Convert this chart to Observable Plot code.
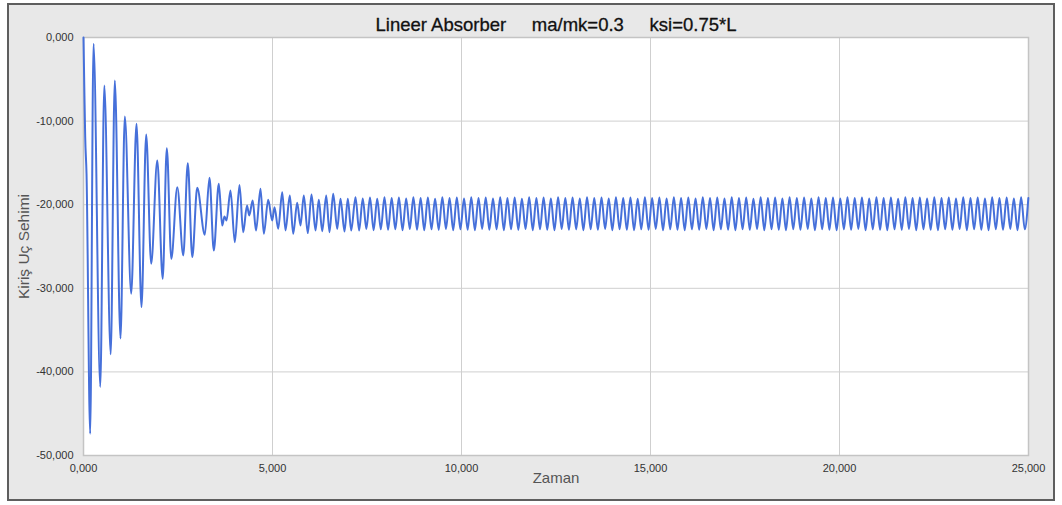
<!DOCTYPE html>
<html>
<head>
<meta charset="utf-8">
<script src="https://cdn.jsdelivr.net/npm/d3@7"></script>
<script src="https://cdn.jsdelivr.net/npm/@observablehq/plot@0.6"></script>
<style>
  body { margin: 0; background: #ffffff; }
  #panel { position: absolute; left: 7px; top: 3px; width: 1044px; height: 494px;
           border: 2px solid #5e5e5e; background: #e8e8e8; }
  #chart { position: absolute; left: 0; top: 0; }
  svg text { white-space: pre; }
</style>
</head>
<body>
<div id="panel"></div>
<div id="chart"></div>
<script>
// Title and axis texts
const titleText = "Lineer Absorber     ma/mk=0.3     ksi=0.75*L";
const xTitle = "Zaman";
const yTitle = "Kiriş Uç Sehimi";

// Tick values (labels rendered with Turkish decimal comma: 0,000 ... 25,000)
const xTicks = [0, 5, 10, 15, 20, 25];
const yTicks = [0, -10, -20, -30, -40, -50];

// Transient part: extrema (time, deflection)
const transientTime = [0, 0.025, 0.045, 0.080, 0.177, 0.265, 0.444, 0.550, 0.720, 0.828,
  0.979, 1.093, 1.262, 1.402, 1.534, 1.658, 1.791, 1.952, 2.095, 2.204,
  2.323, 2.481, 2.640, 2.759, 2.878, 3.008, 3.209, 3.333, 3.447, 3.579,
  3.669, 3.730, 3.783, 3.889, 4.003, 4.127, 4.225, 4.325, 4.384, 4.476,
  4.564, 4.683, 4.770, 4.886, 4.992, 5.053, 5.151, 5.257, 5.344, 5.458,
  5.548, 5.653, 5.741, 5.828, 5.934, 6.032, 6.138, 6.225, 6.315, 6.421,
  6.508, 6.606, 6.712, 6.799, 6.905, 6.992, 7.082];
const transientValue = [0, -7.0, -11.9, -16.3, -47.4, -0.76, -41.8, -5.74, -37.9, -5.14,
  -36.0, -9.45, -30.65, -10.33, -32.25, -11.6, -27.07, -14.7, -28.86, -13.25,
  -26.47, -17.9, -26.07, -15.03, -26.27, -17.98, -23.6, -16.78, -25.48, -17.5,
  -22.48, -21.41, -21.89, -18.3, -24.48, -17.65, -23.29, -20.09, -21.29, -19.5,
  -23.1, -18.1, -23.48, -19.42, -21.89, -20.3, -22.88, -18.5, -23.08, -18.9,
  -23.48, -19.77, -22.48, -18.9, -23.4, -18.78, -23.08, -19.42, -23.17, -18.9,
  -23.29, -18.7, -22.88, -19.3, -23.2, -19.3, -23.08];

// Steady oscillation: peaks and troughs
const steadyTime = [7.196, 7.292, 7.387, 7.483, 7.579, 7.675, 7.770, 7.866, 7.962, 8.057,
  8.153, 8.249, 8.344, 8.440, 8.536, 8.632, 8.727, 8.823, 8.919, 9.014,
  9.110, 9.206, 9.301, 9.397, 9.493, 9.589, 9.684, 9.780, 9.876, 9.971,
  10.067, 10.163, 10.258, 10.354, 10.450, 10.546, 10.641, 10.737, 10.833, 10.928,
  11.024, 11.120, 11.215, 11.311, 11.407, 11.503, 11.598, 11.694, 11.790, 11.885,
  11.981, 12.077, 12.172, 12.268, 12.364, 12.460, 12.555, 12.651, 12.747, 12.842,
  12.938, 13.034, 13.129, 13.225, 13.321, 13.417, 13.512, 13.608, 13.704, 13.799,
  13.895, 13.991, 14.086, 14.182, 14.278, 14.374, 14.469, 14.565, 14.661, 14.756,
  14.852, 14.948, 15.043, 15.139, 15.235, 15.331, 15.426, 15.522, 15.618, 15.713,
  15.809, 15.905, 16.000, 16.096, 16.192, 16.288, 16.383, 16.479, 16.575, 16.670,
  16.766, 16.862, 16.957, 17.053, 17.149, 17.245, 17.340, 17.436, 17.532, 17.627,
  17.723, 17.819, 17.914, 18.010, 18.106, 18.202, 18.297, 18.393, 18.489, 18.584,
  18.680, 18.776, 18.871, 18.967, 19.063, 19.159, 19.254, 19.350, 19.446, 19.541,
  19.637, 19.733, 19.828, 19.924, 20.020, 20.116, 20.211, 20.307, 20.403, 20.498,
  20.594, 20.690, 20.785, 20.881, 20.977, 21.073, 21.168, 21.264, 21.360, 21.455,
  21.551, 21.647, 21.742, 21.838, 21.934, 22.030, 22.125, 22.221, 22.317, 22.412,
  22.508, 22.604, 22.699, 22.795, 22.891, 22.987, 23.082, 23.178, 23.274, 23.369,
  23.465, 23.561, 23.656, 23.752, 23.848, 23.944, 24.039, 24.135, 24.231, 24.326,
  24.422, 24.518, 24.613, 24.709, 24.805, 24.901, 24.996];
const steadyValue = [-19.10, -23.08, -19.25, -22.90, -19.15, -23.05, -19.30, -22.95, -19.10, -23.00,
  -19.20, -22.95, -19.15, -23.05, -19.25, -22.90, -19.10, -23.00, -19.20, -23.05,
  -19.15, -22.95, -19.30, -23.00, -19.10, -22.90, -19.20, -23.05, -19.15, -22.95,
  -19.25, -23.00, -19.10, -23.05, -19.20, -22.90, -19.15, -23.00, -19.25, -22.95,
  -19.10, -23.05, -19.20, -22.95, -19.15, -23.00, -19.30, -22.90, -19.10, -23.05,
  -19.20, -22.95, -19.15, -23.00, -19.25, -23.05, -19.10, -22.90, -19.20, -23.00,
  -19.15, -22.95, -19.25, -23.05, -19.10, -22.95, -19.20, -23.00, -19.15, -22.90,
  -19.25, -23.05, -19.10, -22.95, -19.20, -23.00, -19.15, -23.05, -19.30, -22.95,
  -19.10, -23.00, -19.20, -22.90, -19.15, -23.05, -19.25, -22.95, -19.10, -23.00,
  -19.20, -23.05, -19.15, -22.95, -19.25, -23.00, -19.10, -22.90, -19.20, -23.05,
  -19.15, -22.95, -19.25, -23.00, -19.10, -23.05, -19.20, -22.95, -19.15, -23.00,
  -19.30, -22.90, -19.10, -23.05, -19.20, -22.95, -19.15, -23.00, -19.25, -23.05,
  -19.10, -22.95, -19.20, -23.00, -19.15, -22.90, -19.25, -23.05, -19.10, -22.95,
  -19.20, -23.00, -19.15, -23.05, -19.25, -22.95, -19.10, -23.00, -19.20, -22.90,
  -19.15, -23.05, -19.25, -22.95, -19.10, -23.00, -19.20, -23.05, -19.15, -22.95,
  -19.30, -23.00, -19.10, -22.90, -19.20, -23.05, -19.15, -22.95, -19.25, -23.00,
  -19.10, -23.05, -19.20, -22.95, -19.15, -23.00, -19.25, -22.90, -19.10, -23.05,
  -19.20, -22.95, -19.15, -23.00, -19.25, -23.05, -19.10, -22.95, -19.20, -23.00,
  -19.15, -22.90, -19.25, -23.05, -19.10, -22.95, -19.20];

// Build the table the library needs
const time = transientTime.concat(steadyTime);
const deflection = transientValue.concat(steadyValue);
const data = time.map((t, i) => ({t, v: deflection[i]}));

const trLocale = d3.formatLocale({decimal: ",", thousands: ".", grouping: [3], currency: ["", ""], minus: "-"});
const fmt = trLocale.format(".3f");

const font = "'Liberation Sans', Arial, sans-serif";

const chart = Plot.plot({
  width: 1062,
  height: 505,
  marginLeft: 83,
  marginRight: 34,
  marginTop: 37,
  marginBottom: 50,
  style: {background: "transparent", fontFamily: font, overflow: "visible"},
  x: {domain: [0, 25]},
  y: {domain: [-50, 0]},
  marks: [
    Plot.frame({fill: "white", stroke: null}),
    Plot.gridX(xTicks, {stroke: "#cfcfcf", strokeOpacity: 1}),
    Plot.gridY(yTicks, {stroke: "#cfcfcf", strokeOpacity: 1}),
    Plot.frame({stroke: "#c4c4c4", strokeWidth: 1.5}),
    Plot.line(data, {x: "t", y: "v", stroke: "#4670da", strokeWidth: 2, curve: "monotone-x"}),
    Plot.axisX(xTicks, {tickSize: 0, tickPadding: 9, tickFormat: fmt, label: null, fontSize: 11, fill: "#333"}),
    Plot.axisY(yTicks, {tickSize: 0, tickPadding: 10, tickFormat: fmt, label: null, fontSize: 11, fill: "#333"}),
    Plot.text([titleText], {frameAnchor: "top", dy: -20, fontSize: 18.5, fill: "#111", stroke: "#111", strokeWidth: 0.3, text: d => d}),
    Plot.text([xTitle], {frameAnchor: "bottom", dy: 27, fontSize: 15, fill: "#555", text: d => d}),
    Plot.text([yTitle], {frameAnchor: "left", dx: -59, rotate: -90, textAnchor: "middle", fontSize: 15.5, fill: "#555", text: d => d})
  ]
});
document.getElementById("chart").appendChild(chart);
</script>
</body>
</html>
